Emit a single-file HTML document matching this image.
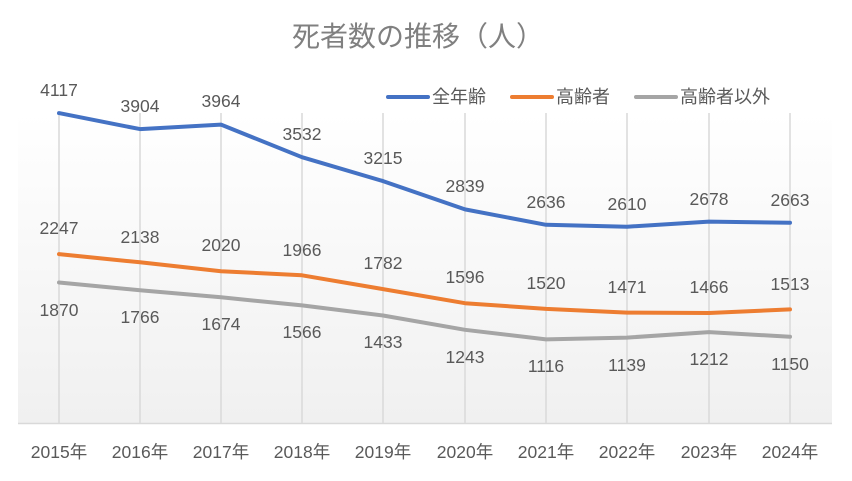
<!DOCTYPE html>
<html><head><meta charset="utf-8"><style>body{margin:0;background:#fff}svg{display:block}text{font-family:"Liberation Sans","Noto Sans CJK JP",sans-serif;fill:#595959}</style></head><body>
<svg width="852" height="481" viewBox="0 0 852 481" xmlns="http://www.w3.org/2000/svg">
<defs><linearGradient id="g" x1="0" y1="0" x2="0" y2="1"><stop offset="0" stop-color="#ffffff"/><stop offset="1" stop-color="#f0f0f0"/></linearGradient></defs>
<rect x="18" y="113" width="814" height="310" fill="url(#g)"/>
<g stroke="#d9d9d9" stroke-width="1.5">
<line x1="59" y1="113" x2="59" y2="423"/><line x1="140" y1="113" x2="140" y2="423"/><line x1="221" y1="113" x2="221" y2="423"/><line x1="302" y1="113" x2="302" y2="423"/><line x1="383" y1="113" x2="383" y2="423"/><line x1="465" y1="113" x2="465" y2="423"/><line x1="546" y1="113" x2="546" y2="423"/><line x1="627" y1="113" x2="627" y2="423"/><line x1="709" y1="113" x2="709" y2="423"/><line x1="790" y1="113" x2="790" y2="423"/>
<line x1="18" y1="423.5" x2="832" y2="423.5"/>
</g>
<text x="418" y="46" font-size="28" text-anchor="middle" style="fill:#808080">死者数の推移（人）</text>
<g stroke-width="4" stroke-linecap="round">
<line x1="388" y1="97" x2="428" y2="97" stroke="#4472c4"/>
<line x1="512" y1="97" x2="552" y2="97" stroke="#ed7d31"/>
<line x1="636" y1="97" x2="676" y2="97" stroke="#a5a5a5"/>
</g>
<g font-size="18"><text x="432" y="103">全年齢</text><text x="556" y="103">高齢者</text><text x="680" y="103">高齢者以外</text></g>
<g fill="none" stroke-width="4" stroke-linejoin="round" stroke-linecap="round">
<polyline stroke="#a5a5a5" points="59,282.5 140,290.3 221,297.3 302,305.4 383,315.5 465,329.8 546,339.4 627,337.6 709,332.1 790,336.8"/>
<polyline stroke="#ed7d31" points="59,254.1 140,262.3 221,271.2 302,275.3 383,289.1 465,303.2 546,308.9 627,312.6 709,313 790,309.4"/>
<polyline stroke="#4472c4" points="59,113.1 140,129.1 221,124.6 302,157.2 383,181.1 465,209.4 546,224.8 627,226.7 709,221.6 790,222.7"/>
</g>
<g font-size="17.5" text-anchor="middle">
<text x="59" y="96">4117</text><text x="140" y="112">3904</text><text x="221" y="107">3964</text><text x="302" y="140">3532</text><text x="383" y="164">3215</text><text x="465" y="192">2839</text><text x="546" y="208">2636</text><text x="627" y="210">2610</text><text x="709" y="205">2678</text><text x="790" y="206">2663</text>
<text x="59" y="234">2247</text><text x="140" y="243">2138</text><text x="221" y="251">2020</text><text x="302" y="256">1966</text><text x="383" y="269">1782</text><text x="465" y="283">1596</text><text x="546" y="289">1520</text><text x="627" y="293">1471</text><text x="709" y="293">1466</text><text x="790" y="290">1513</text>
<text x="59" y="316">1870</text><text x="140" y="323">1766</text><text x="221" y="330">1674</text><text x="302" y="338">1566</text><text x="383" y="348">1433</text><text x="465" y="363">1243</text><text x="546" y="372">1116</text><text x="627" y="371">1139</text><text x="709" y="365">1212</text><text x="790" y="370">1150</text>
</g>
<g font-size="17.5" text-anchor="middle">
<text x="59" y="458">2015年</text><text x="140" y="458">2016年</text><text x="221" y="458">2017年</text><text x="302" y="458">2018年</text><text x="383" y="458">2019年</text><text x="465" y="458">2020年</text><text x="546" y="458">2021年</text><text x="627" y="458">2022年</text><text x="709" y="458">2023年</text><text x="790" y="458">2024年</text>
</g>
</svg>
</body></html>
